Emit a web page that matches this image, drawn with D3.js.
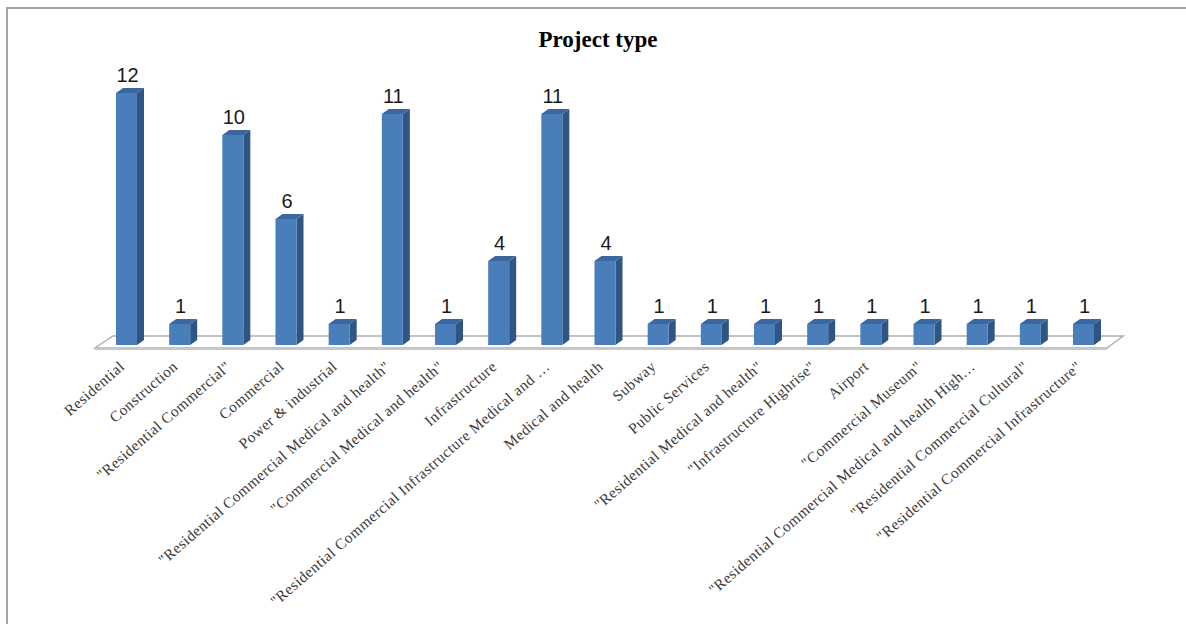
<!DOCTYPE html>
<html><head><meta charset="utf-8">
<script src="https://cdn.jsdelivr.net/npm/d3@7"></script>
<style>body{margin:0;background:#fff}svg{display:block}</style>
</head><body>
<svg id="c" width="1186" height="624"></svg>
<script>
const categories = [
  'Residential',
  'Construction',
  '"Residential Commercial"',
  'Commercial',
  'Power & industrial',
  '"Residential Commercial Medical and health"',
  '"Commercial Medical and health"',
  'Infrastructure',
  '"Residential Commercial Infrastructure Medical and …',
  'Medical and health',
  'Subway',
  'Public Services',
  '"Residential Medical and health"',
  '"Infrastructure Highrise"',
  'Airport',
  '"Commercial Museum"',
  '"Residential Commercial Medical and health High…',
  '"Residential Commercial Cultural"',
  '"Residential Commercial Infrastructure"'
];
const values = [12, 1, 10, 6, 1, 11, 1, 4, 11, 4, 1, 1, 1, 1, 1, 1, 1, 1, 1];
const yDomain = [0, 12];
const title = 'Project type';

const svg = d3.select('#c');
const x = d3.scalePoint().domain(categories).range([126.5, 1083.5]);
const y = d3.scaleLinear().domain(yDomain).range([345, 93]);
const bw = 21, dx = 7, dy = -5;

// outer border
svg.append('path').attr('d', 'M7,624 V8 H1186').attr('fill', 'none')
  .attr('stroke', '#a3a3a3').attr('stroke-width', 2);

// title
svg.append('text').attr('x', 598).attr('y', 47).attr('text-anchor', 'middle')
  .attr('font-family', 'Liberation Serif, Times New Roman, serif').attr('font-weight', 'bold')
  .attr('font-size', 23).attr('fill', '#000').text(title);

// floor
const y0 = y(0);
const fl = { fx0: 95, fx1: 1107, fy: y0 + 3, bx0: 113, bx1: 1123, by: y0 - 9 };
svg.append('path')
  .attr('d', `M${fl.fx0},${fl.fy} L${fl.bx0},${fl.by} L${fl.bx1},${fl.by} L${fl.fx1},${fl.fy} Z`)
  .attr('fill', '#fff').attr('stroke', '#b0b0b0').attr('stroke-width', 1.5);
svg.append('line').attr('x1', fl.fx0).attr('x2', fl.fx1).attr('y1', fl.fy + 1).attr('y2', fl.fy + 1)
  .attr('stroke', '#c8c8c8').attr('stroke-width', 2);

// bars
const g = svg.append('g');
const bars = g.selectAll('g.bar').data(values).join('g').attr('class', 'bar');
bars.append('path') // side
  .attr('d', (d, i) => {
    const x1 = x(categories[i]) + bw / 2, yt = y(d), yb = y0;
    return `M${x1},${yt} L${x1 + dx},${yt + dy} L${x1 + dx},${yb + dy} L${x1},${yb} Z`;
  }).attr('fill', '#2f5584');
bars.append('path') // top
  .attr('d', (d, i) => {
    const x0 = x(categories[i]) - bw / 2, x1 = x0 + bw, yt = y(d);
    return `M${x0},${yt} L${x0 + dx},${yt + dy} L${x1 + dx},${yt + dy} L${x1},${yt} Z`;
  }).attr('fill', '#3c679e');
bars.append('rect') // front
  .attr('x', (d, i) => x(categories[i]) - bw / 2).attr('width', bw)
  .attr('y', d => y(d)).attr('height', d => y0 - y(d)).attr('fill', '#4a7ebb');

// value labels
g.selectAll('text.val').data(values).join('text').attr('class', 'val')
  .attr('x', (d, i) => x(categories[i]) + 1).attr('y', d => y(d) - 11)
  .attr('text-anchor', 'middle').attr('font-family', 'Liberation Sans, Arial, sans-serif')
  .attr('font-size', 20).attr('fill', '#1a1a1a').text(d => d);

// category labels
g.selectAll('text.cat').data(categories).join('text').attr('class', 'cat')
  .attr('transform', d => `translate(${x(d) - 1},368) rotate(-41)`)
  .attr('text-anchor', 'end').attr('font-family', 'Liberation Serif, Times New Roman, serif')
  .attr('font-size', 15.2).attr('letter-spacing', 0.5).attr('fill', '#3a3a3a').text(d => d);
</script>
</body></html>
